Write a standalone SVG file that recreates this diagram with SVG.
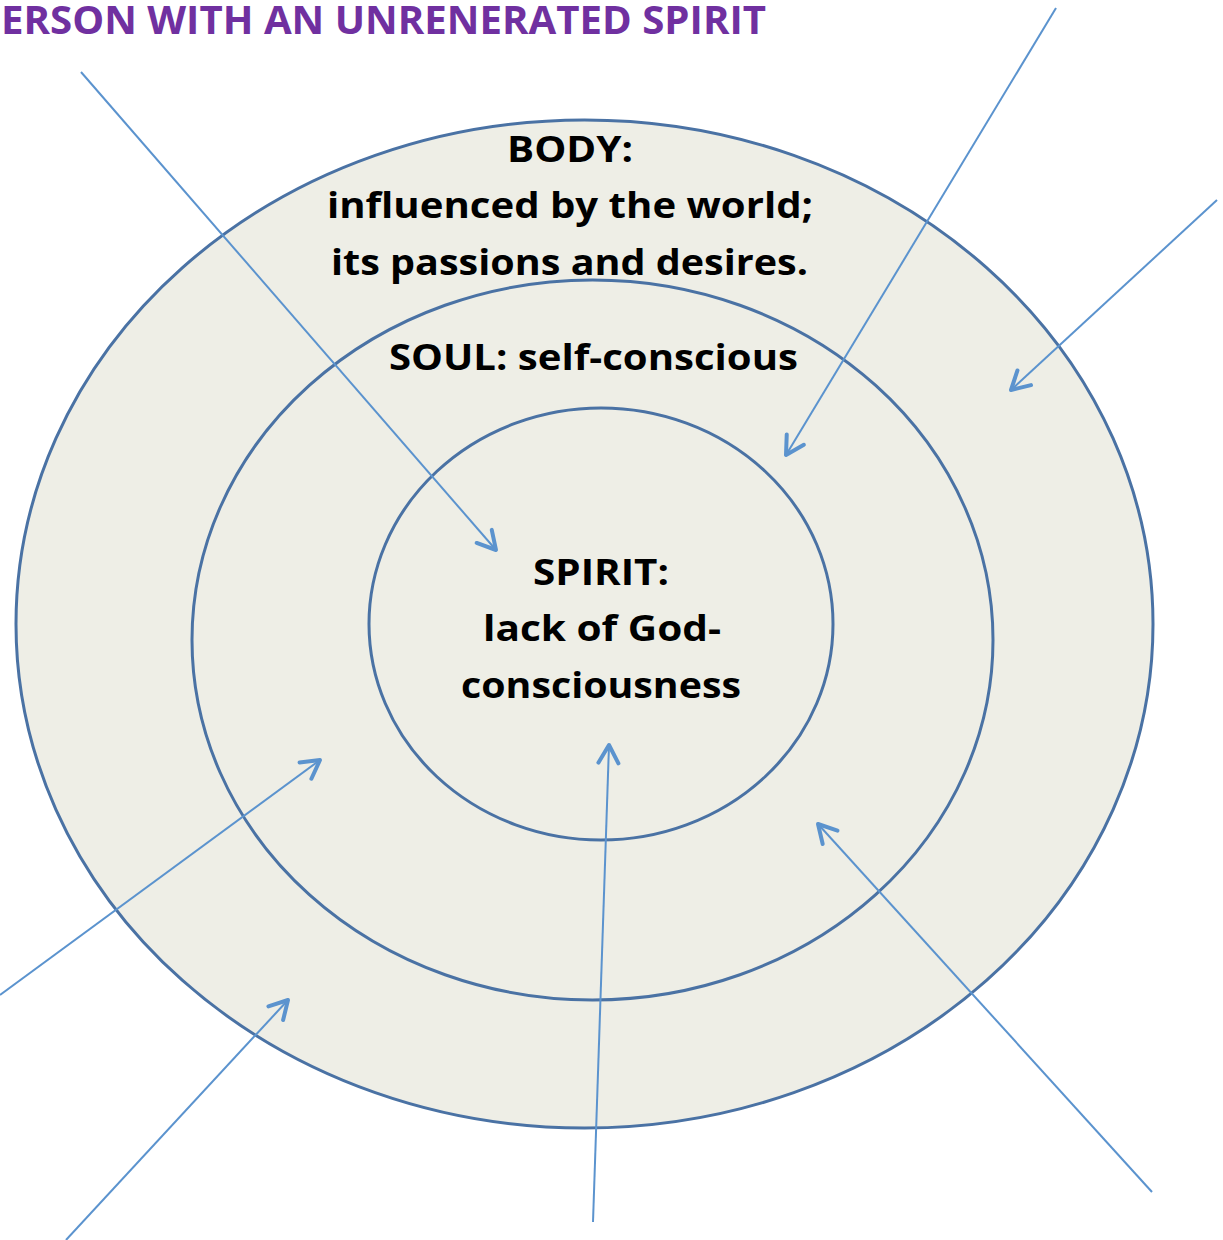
<svg xmlns="http://www.w3.org/2000/svg" width="1223" height="1240" viewBox="0 0 1223 1240">
<style>
.ring{fill:#EEEEE6;stroke:#4A72A4;stroke-width:3}
.lbl{font-family:"Open Sans","Liberation Sans",sans-serif;font-weight:bold;font-size:35px;fill:#000;text-anchor:middle}
.title{font-family:"Open Sans","Liberation Sans",sans-serif;font-weight:bold;font-size:39px;fill:#7030A0}
.arr{stroke:#5B93CE;stroke-width:2;fill:none;marker-end:url(#ah)}
</style>
<defs>
<marker id="ah" markerUnits="userSpaceOnUse" markerWidth="30" markerHeight="30" refX="22" refY="12" orient="auto" viewBox="0 0 30 24">
<polyline points="4,2 22,12 4,22" fill="none" stroke="#5B93CE" stroke-width="4" stroke-linecap="round" stroke-linejoin="round"/>
</marker>
</defs>
<rect width="1223" height="1240" fill="#fff"/>
<text class="title" x="1" y="34" textLength="765" lengthAdjust="spacingAndGlyphs">ERSON WITH AN UNRENERATED SPIRIT</text>
<g id="body">
<ellipse class="ring" cx="584.5" cy="624" rx="568.5" ry="504"/>
<text class="lbl" x="570" y="162" textLength="126" lengthAdjust="spacingAndGlyphs">BODY:</text>
<text class="lbl" x="570" y="218" textLength="486" lengthAdjust="spacingAndGlyphs">influenced by the world;</text>
<text class="lbl" x="569.5" y="275" textLength="477" lengthAdjust="spacingAndGlyphs">its passions and desires.</text>
</g>
<g id="soul">
<ellipse class="ring" cx="592.5" cy="640" rx="400.5" ry="360"/>
<text class="lbl" x="593.5" y="370" textLength="409" lengthAdjust="spacingAndGlyphs">SOUL: self-conscious</text>
</g>
<g id="spirit">
<ellipse class="ring" cx="601" cy="624" rx="232" ry="216"/>
<text class="lbl" x="601" y="585" textLength="136" lengthAdjust="spacingAndGlyphs">SPIRIT:</text>
<text class="lbl" x="602" y="641" textLength="238" lengthAdjust="spacingAndGlyphs">lack of God-</text>
<text class="lbl" x="601" y="698" textLength="280" lengthAdjust="spacingAndGlyphs">consciousness</text>
</g>
<g id="connectors">
<line class="arr" x1="81" y1="72" x2="496" y2="550"/>
<line class="arr" x1="1056" y1="8" x2="786" y2="455"/>
<line class="arr" x1="1217" y1="200" x2="1011" y2="390"/>
<line class="arr" x1="0" y1="995" x2="320" y2="760"/>
<line class="arr" x1="66" y1="1240" x2="288" y2="1000"/>
<line class="arr" x1="593" y1="1222" x2="609" y2="745"/>
<line class="arr" x1="1152" y1="1192" x2="818" y2="824"/>
</g>
</svg>
